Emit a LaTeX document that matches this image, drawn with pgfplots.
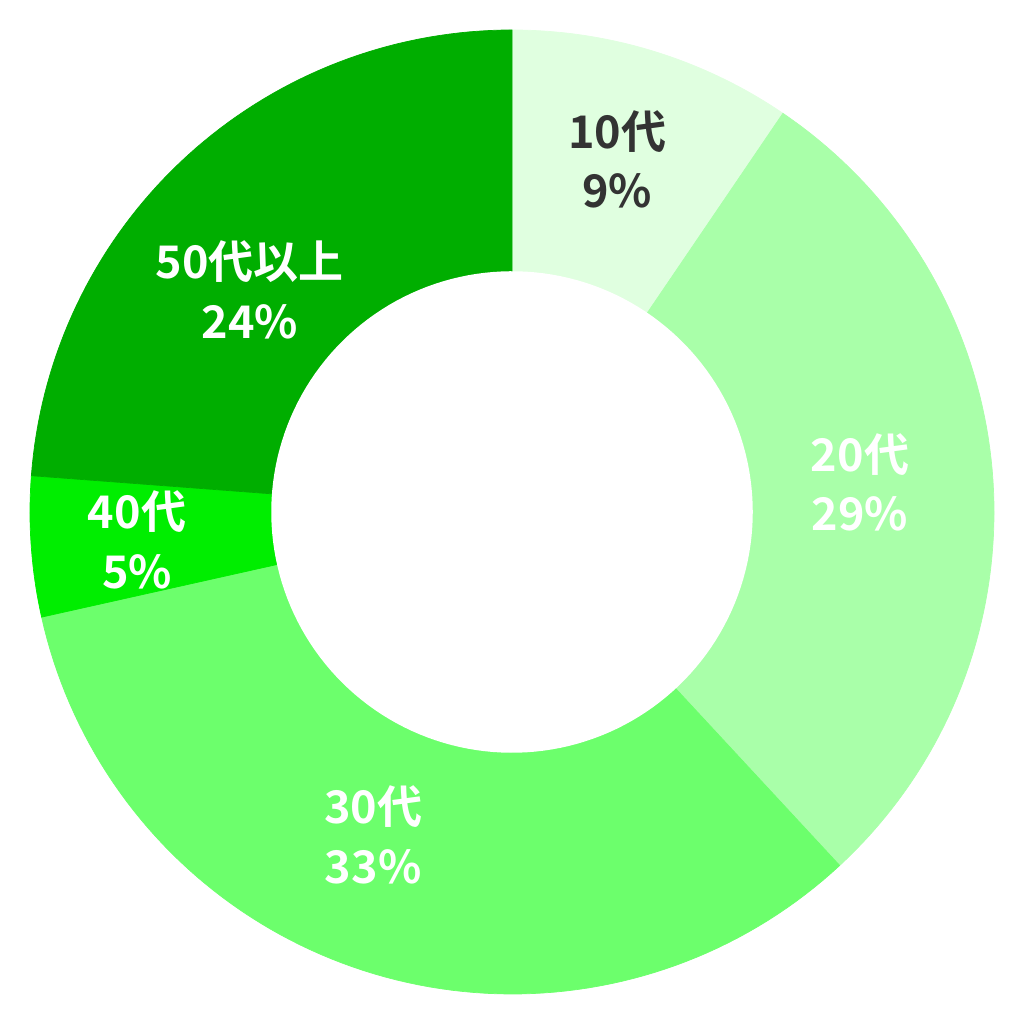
\documentclass[border=0pt]{standalone}
\usepackage{pgfplots}
\pgfplotsset{compat=1.18}
\usepackage{fontspec}
\newfontfamily\cjk{Noto Sans CJK JP}[BoldFont={Noto Sans CJK JP Bold}]
\definecolor{c10}{HTML}{E0FFE0}
\definecolor{c20}{HTML}{A9FFA9}
\definecolor{c30}{HTML}{6CFF6C}
\definecolor{c40}{HTML}{00EE00}
\definecolor{c50}{HTML}{00AE00}
\definecolor{txt}{HTML}{333333}
% shares (%): 10s 9.5, 20s 28.6, 30s 33.4, 40s 4.7, 50+ 23.8 -> start at top, clockwise
\tikzset{lbl/.style={font=\cjk\bfseries\fontsize{12.5}{16.5}\selectfont,align=center}}
\begin{document}
\begin{tikzpicture}
\begin{axis}[scale only axis,width=10cm,height=10cm,hide axis,
  xmin=-1.0622,xmax=1.0622,ymin=-1.0622,ymax=1.0622,clip=false]
\path (axis cs:-1.0622,-1.0622) rectangle (axis cs:1.0622,1.0622);
\addplot[fill=c10,draw=c10,line width=0.2pt,data cs=polar,domain=55.8:90,samples=40] (x,1) -- (0,0) -- cycle;
\addplot[fill=c20,draw=c20,line width=0.2pt,data cs=polar,domain=-47.16:55.8,samples=80] (x,1) -- (0,0) -- cycle;
\addplot[fill=c30,draw=c30,line width=0.2pt,data cs=polar,domain=-167.4:-47.16,samples=90] (x,1) -- (0,0) -- cycle;
\addplot[fill=c40,draw=c40,line width=0.2pt,data cs=polar,domain=-184.32:-167.4,samples=20] (x,1) -- (0,0) -- cycle;
\addplot[fill=c50,draw=c50,line width=0.2pt,data cs=polar,domain=-270:-184.32,samples=70] (x,1) -- (0,0) -- cycle;
\addplot[fill=white,draw=white,data cs=polar,domain=0:360,samples=180] (x,0.498) -- cycle;
\node[lbl,text=txt] at (axis cs:0.218,0.732) {10代\\9\%};
\node[lbl,text=white] at (axis cs:0.722,0.062) {20代\\29\%};
\node[lbl,text=white] at (axis cs:-0.288,-0.670) {30代\\33\%};
\node[lbl,text=white] at (axis cs:-0.778,-0.058) {40代\\5\%};
\node[lbl,text=white] at (axis cs:-0.544,0.461) {50代以上\\24\%};
\end{axis}
\end{tikzpicture}
\end{document}
